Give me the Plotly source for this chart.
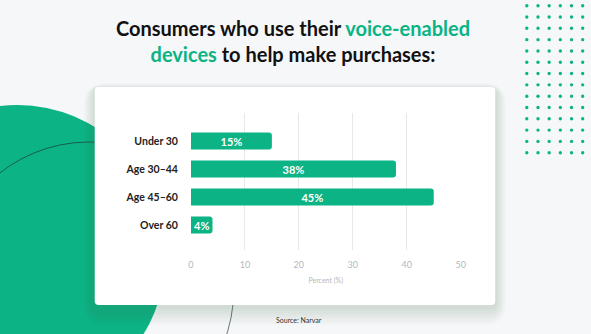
import plotly.graph_objects as go

W, H = 591, 334

categories = ["Under 30", "Age 30–44", "Age 45–60", "Over 60"]
values = [15, 38, 45, 4]
x_ticks = [0, 10, 20, 30, 40, 50]

GREEN = "#0BB385"
FONT = "Lato"


def px(x):
    return x / W


def py(y):
    return 1 - y / H


def rrect(x0, y0, x1, y1, r):
    rx, ry = r / W, r / H
    X0, X1 = px(x0), px(x1)
    Y0, Y1 = py(y0), py(y1)  # Y0 top (larger), Y1 bottom
    return (
        f"M{X0+rx},{Y0} L{X1-rx},{Y0} Q{X1},{Y0} {X1},{Y0-ry} "
        f"L{X1},{Y1+ry} Q{X1},{Y1} {X1-rx},{Y1} "
        f"L{X0+rx},{Y1} Q{X0},{Y1} {X0},{Y1+ry} "
        f"L{X0},{Y0-ry} Q{X0},{Y0} {X0+rx},{Y0} Z"
    )


shapes = []
# big green circle
shapes.append(dict(type="circle", xref="paper", yref="paper", layer="below",
                   x0=px(-135), x1=px(165), y0=py(105), y1=py(405),
                   fillcolor=GREEN, line=dict(width=0)))
# thin arc line
shapes.append(dict(type="circle", xref="paper", yref="paper", layer="below",
                   x0=px(87 - 147), x1=px(87 + 147), y0=py(289 - 147), y1=py(289 + 147),
                   fillcolor="rgba(0,0,0,0)", line=dict(width=0.8, color="rgba(30,55,50,0.85)")))
# card shadow
for i in range(9, 0, -1):
    s = i * 2.0
    shapes.append(dict(type="path", xref="paper", yref="paper", layer="below",
                       path=rrect(93 - s * 0.6, 87 - s * 0.3 + 2, 499 + s * 0.6, 305 + s + 2, 4 + s),
                       fillcolor="rgba(70,110,105,0.022)", line=dict(width=0)))
# card
shapes.append(dict(type="path", xref="paper", yref="paper", layer="below",
                   path=rrect(93, 87, 499, 305, 4),
                   fillcolor="#FFFFFF", line=dict(width=0)))
# dot grid (decoration)
for row in range(14):
    for col in range(6):
        cx = 531 + col * 11.33
        cy = 5.7 + row * 11.31
        r = 1.7
        shapes.append(dict(type="circle", xref="paper", yref="paper", layer="below",
                           x0=px(cx - r), x1=px(cx + r), y0=py(cy - r), y1=py(cy + r),
                           fillcolor=GREEN, line=dict(width=0)))

fig = go.Figure()
fig.add_trace(go.Bar(
    x=values, y=categories, orientation="h",
    marker=dict(color=GREEN, cornerradius=3, line=dict(width=0)),
    width=0.61,
    texttemplate="%{x}%", textposition="inside", insidetextanchor="middle",
    textfont=dict(family=FONT, size=11, color="white", weight="bold"),
    constraintext="none",
    hoverinfo="skip",
))

fig.update_layout(
    width=W, height=H,
    margin=dict(l=0, r=0, t=0, b=0),
    paper_bgcolor="#F6F7F9",
    plot_bgcolor="rgba(0,0,0,0)",
    showlegend=False,
    shapes=shapes,
    uniformtext=dict(minsize=11, mode="show"),
    xaxis=dict(
        domain=[px(190.5), px(464)], range=[0, 50],
        tickvals=x_ticks, ticktext=[str(t) for t in x_ticks],
        showgrid=True, gridcolor="#E6E8EC", gridwidth=1,
        zeroline=False, showline=False, ticks="",
        tickfont=dict(family=FONT, size=9, color="#B3B8C0"),
        ticklabelstandoff=8,
        title=dict(text="Percent (%)", font=dict(family=FONT, size=7, color="#B3B8C0"), standoff=9),
        fixedrange=True,
    ),
    yaxis=dict(
        domain=[py(250), py(113)],
        categoryorder="array", categoryarray=categories,
        range=[3.89, -1.0],
        showgrid=False, zeroline=False, showline=False, ticks="",
        tickfont=dict(family=FONT, size=10.5, color="#222222", weight="bold"),
        ticklabelstandoff=12,
        fixedrange=True,
    ),
    annotations=[
        dict(xref="paper", yref="paper", x=px(294), y=py(41), xanchor="center", yanchor="middle",
             showarrow=False, align="center",
             text=("<b>Consumers who use their <span style='color:%s'>voice-enabled</span><br>"
                   "<span style='color:%s'>devices</span> to help make purchases:</b>") % (GREEN, GREEN),
             font=dict(family=FONT, size=20, color="#111111")),
        dict(xref="paper", yref="paper", x=px(275), y=py(320), xanchor="left", yanchor="middle",
             showarrow=False, text="Source: Narvar",
             font=dict(family=FONT, size=7, color="#333333")),
    ],
)

fig.write_html("out.html")
